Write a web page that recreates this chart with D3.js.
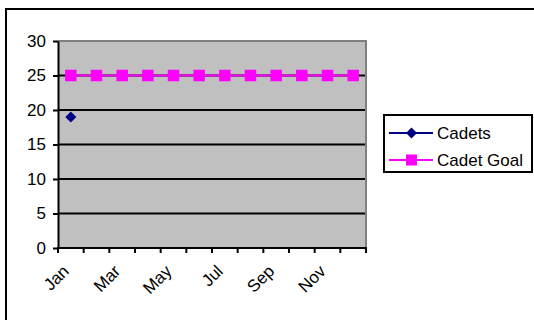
<!DOCTYPE html>
<html>
<head>
<meta charset="utf-8">
<script src="https://cdn.jsdelivr.net/npm/d3@7"></script>
<style>
html,body{margin:0;padding:0;background:#fff;}
svg{display:block;}
text{font-family:"Liberation Sans",Arial,sans-serif;fill:#000;}
</style>
</head>
<body>
<script>
const months = ["Jan","Feb","Mar","Apr","May","Jun","Jul","Aug","Sep","Oct","Nov","Dec"];
const cadets = [19, null, null, null, null, null, null, null, null, null, null, null];
const cadetGoal = [25, 25, 25, 25, 25, 25, 25, 25, 25, 25, 25, 25];
const yTicks = [0, 5, 10, 15, 20, 25, 30];
const seriesNames = ["Cadets", "Cadet Goal"];

const W = 534, H = 320;
const svg = d3.select("body").append("svg").attr("width", W).attr("height", H);

// outer chart border
svg.append("rect").attr("x", 6).attr("y", 9).attr("width", 540).attr("height", 330)
  .attr("fill", "#fff").attr("stroke", "#000").attr("stroke-width", 2);

const L = 58, R = 366, T = 41, B = 248;
const x = d3.scaleBand().domain(months).range([L, R]).padding(0);
const y = d3.scaleLinear().domain([0, 30]).range([B, T]);

// plot area
svg.append("rect").attr("x", L).attr("y", T).attr("width", R - L).attr("height", B - T)
  .attr("fill", "#C0C0C0");
// gray top/right border
svg.append("path").attr("d", `M${L},${T}H${R}V${B}`).attr("fill", "none")
  .attr("stroke", "#808080").attr("stroke-width", 2);

// gridlines
svg.append("g").selectAll("line").data(yTicks.filter(d => d > 0 && d < 30)).join("line")
  .attr("x1", L).attr("x2", R - 1).attr("y1", d => y(d)).attr("y2", d => y(d))
  .attr("stroke", "#000").attr("stroke-width", 2);

// y axis
const yAxis = d3.axisLeft(y).tickValues(yTicks).tickSize(5).tickPadding(7).tickSizeOuter(0);
const gy = svg.append("g").attr("transform", `translate(${L},0)`).call(yAxis);
gy.select(".domain").attr("stroke", "#000").attr("stroke-width", 2);
gy.selectAll(".tick line").attr("stroke", "#000").attr("stroke-width", 2);
gy.selectAll(".tick text").style("font-size", "17px").attr("fill", "#000")
  .style("font-family", "'Liberation Sans',Arial,sans-serif");

// x axis with ticks at band boundaries
const xb = d3.scaleLinear().domain([0, 12]).range([L, R]);
const gx = svg.append("g");
gx.append("line").attr("x1", L - 1).attr("x2", R + 1).attr("y1", B).attr("y2", B)
  .attr("stroke", "#000").attr("stroke-width", 2);
gx.selectAll("line.tk").data(d3.range(13)).join("line").attr("class", "tk")
  .attr("x1", d => xb(d)).attr("x2", d => xb(d)).attr("y1", B).attr("y2", B + 5)
  .attr("stroke", "#000").attr("stroke-width", 2);
gx.selectAll("text").data(months.filter((m, i) => i % 2 === 0)).join("text")
  .attr("transform", d => `translate(${x(d) + x.bandwidth() / 2 - 5},${B + 20}) rotate(-45)`)
  .attr("text-anchor", "end").attr("dy", "0.35em")
  .style("font-size", "17px").text(d => d);

// goal line
const cx = (d, i) => x(months[i]) + x.bandwidth() / 2;
const line = d3.line().defined(d => d != null).x((d, i) => cx(d, i)).y(d => y(d));
svg.append("path").datum(cadetGoal).attr("d", line).attr("fill", "none")
  .attr("stroke", "#FF00FF").attr("stroke-width", 2);
svg.append("path").datum(cadets).attr("d", line).attr("fill", "none")
  .attr("stroke", "#000080").attr("stroke-width", 2);

const S = 11.5;
svg.append("g").selectAll("rect").data(cadetGoal).join("rect")
  .attr("x", (d, i) => cx(d, i) - S / 2).attr("y", d => y(d) - S / 2)
  .attr("width", S).attr("height", S).attr("fill", "#FF00FF");

const dia = r => `M0,${-r}L${r},0L0,${r}L${-r},0Z`;
svg.append("g").selectAll("path").data(cadets.map((v, i) => ({v, i})).filter(d => d.v != null)).join("path")
  .attr("transform", d => `translate(${cx(d.v, d.i)},${y(d.v)})`)
  .attr("d", dia(5.5)).attr("fill", "#000080");

// legend
const lg = svg.append("g");
lg.append("rect").attr("x", 384).attr("y", 115).attr("width", 148).attr("height", 57)
  .attr("fill", "#fff").attr("stroke", "#000").attr("stroke-width", 2);
const ly = [133, 160];
const lcol = ["#000080", "#FF00FF"];
seriesNames.forEach((name, i) => {
  lg.append("line").attr("x1", 389).attr("x2", 433).attr("y1", ly[i]).attr("y2", ly[i])
    .attr("stroke", lcol[i]).attr("stroke-width", 2);
  if (i === 0) {
    lg.append("path").attr("transform", `translate(411.5,${ly[i]})`).attr("d", dia(5.5)).attr("fill", lcol[i]);
  } else {
    lg.append("rect").attr("x", 406).attr("y", ly[i] - 5.5).attr("width", 11).attr("height", 11).attr("fill", lcol[i]);
  }
  lg.append("text").attr("x", 437).attr("y", ly[i]).attr("dy", "0.36em")
    .style("font-size", "17px").text(name);
});
</script>
</body>
</html>
